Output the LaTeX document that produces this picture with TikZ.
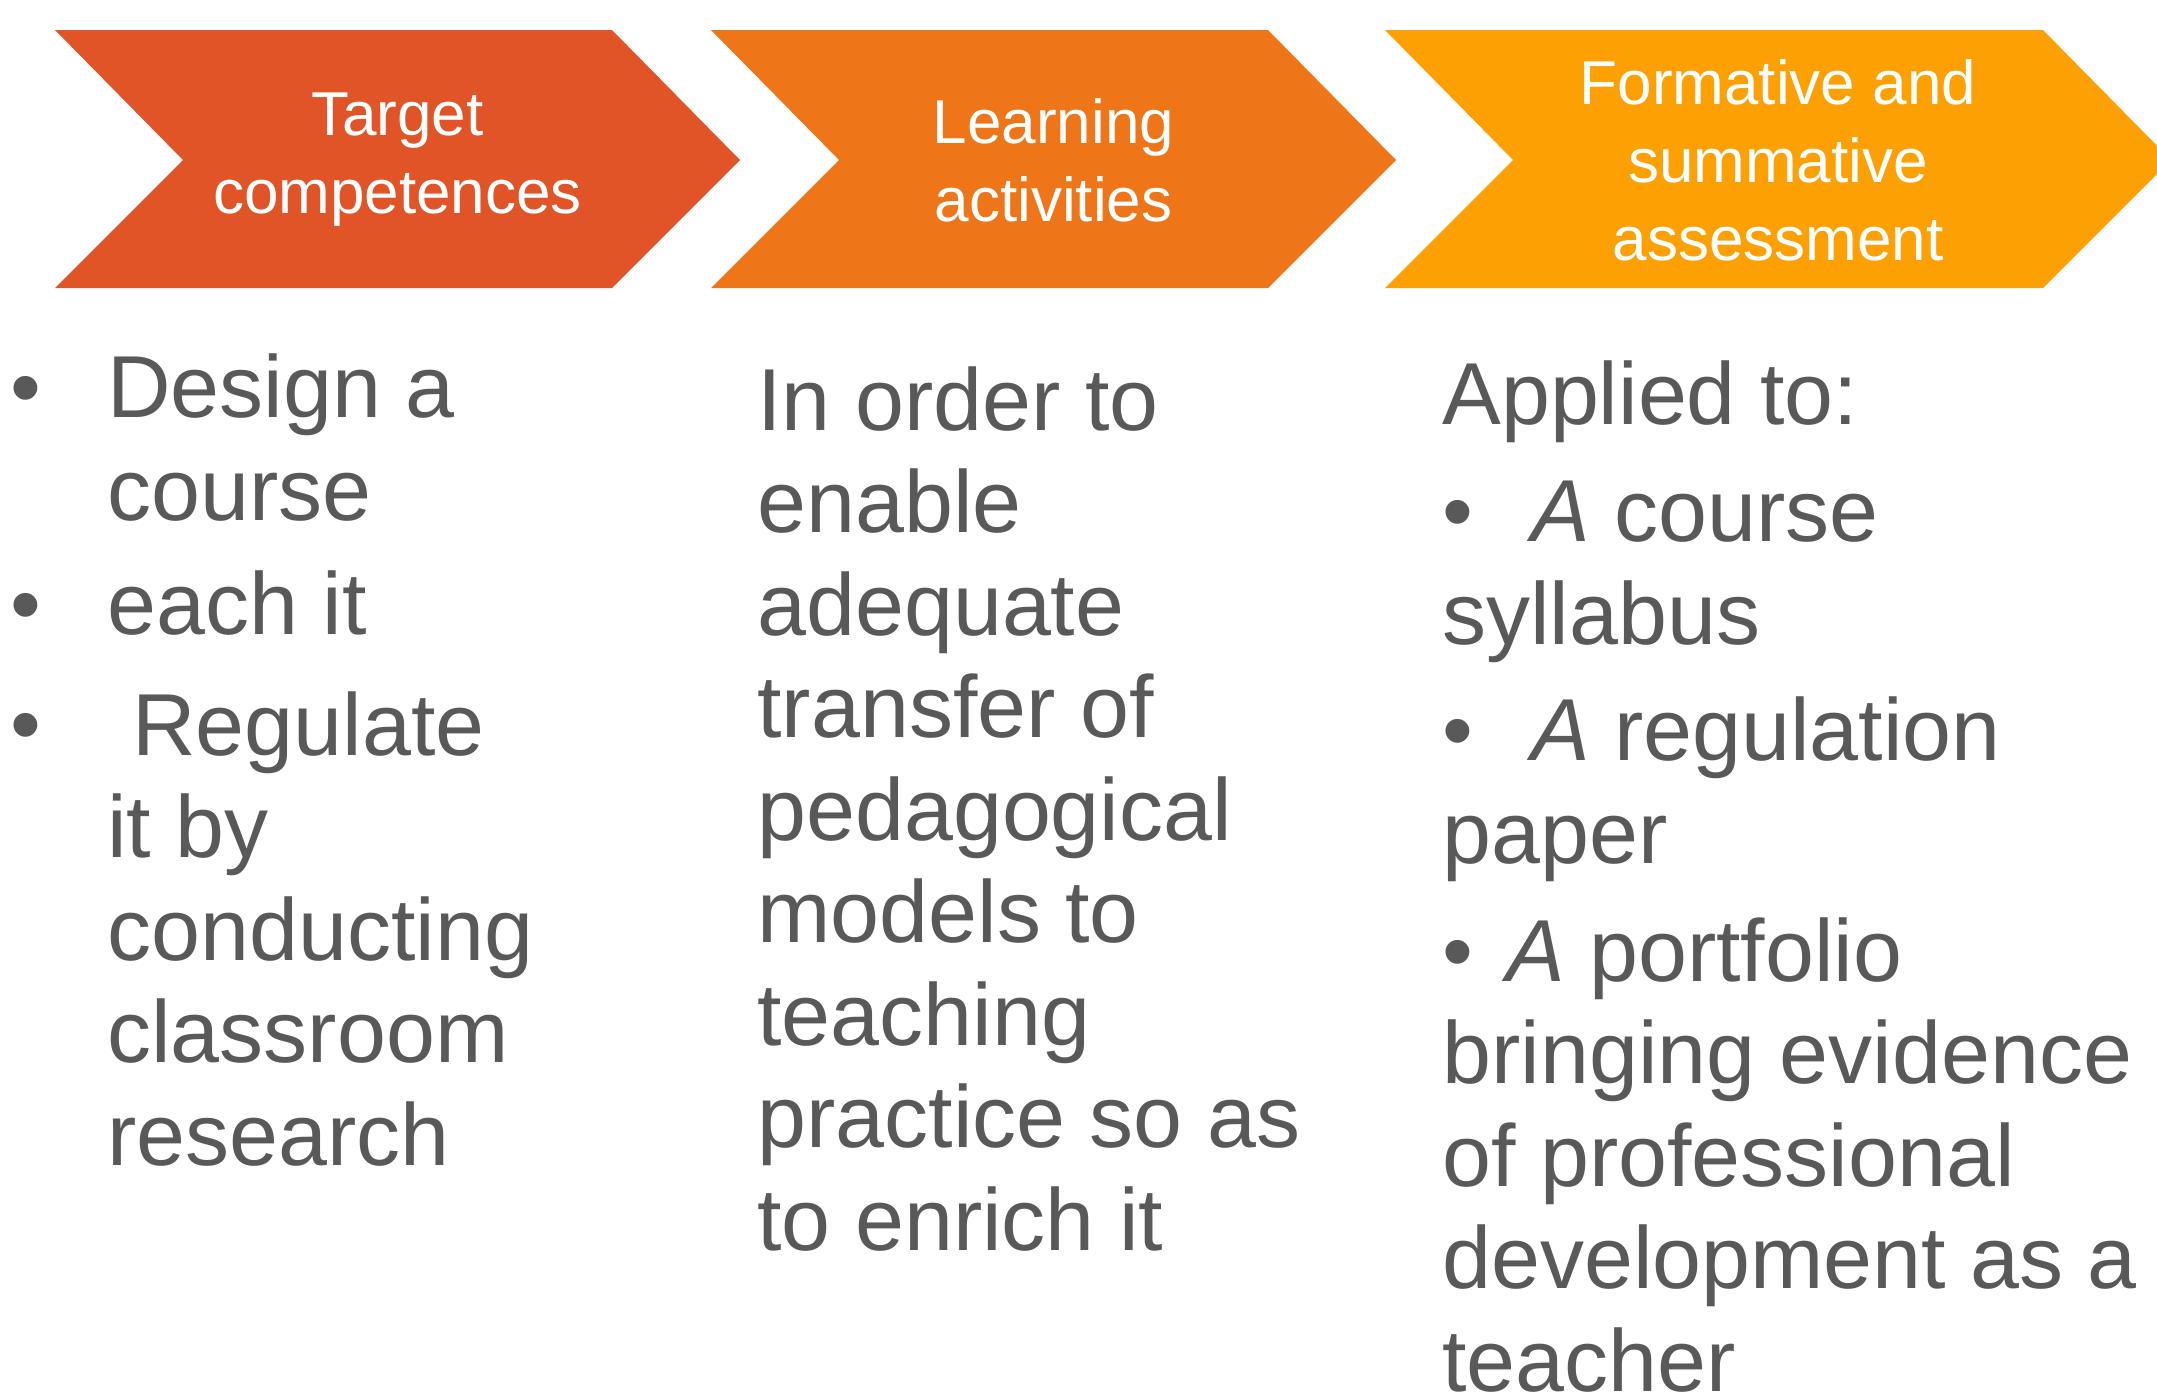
\documentclass[tikz,border=0pt]{standalone}
\usepackage{fontspec}
\setmainfont{Liberation Sans}
\definecolor{stagered}{RGB}{224,84,40}
\definecolor{stageorange}{RGB}{238,117,24}
\definecolor{stageamber}{RGB}{253,160,4}
\definecolor{bodygray}{RGB}{89,89,89}
\tikzset{
  stage/.style={text=white, align=center, font=\fontsize{31}{39}\selectfont},
  % anchored at the baseline of the last line
  body/.style={text=bodygray, anchor=base west, align=left, inner sep=0pt,
    font=\fontsize{44}{51.25}\selectfont},
}

\begin{document}
\begin{tikzpicture}[x=0.5pt, y=-0.5pt]
  \path[use as bounding box, clip] (0,0) rectangle (2157,1399);

  % chevrons
  \foreach \l/\r/\col/\name/\txt in {
      55/612/stagered/target/{Target\\competences},
      711/1268/stageorange/learning/{Learning\\activities},
      1385/2043/stageamber/assess/{Formative and\\summative\\assessment}} {
    \fill[\col] (\l,30) -- (\r,30) -- ++(128,130) -- (\r,288) -- (\l,288) -- ++(128,-128) -- cycle;
    \node[stage] (\name) at ({(\l+128+\r)/2},160) {\txt};
  }

  % first column
  \foreach \y [count=\i] in {417,634,754}
    \node[body] (dot\i) at (10,\y) {\textbullet};
  \node[body] (design) at (107,520) {Design a\\course};
  \node[body] (teach) at (107,634) {each it};
  \node[body] (regulate) at (107,1165) {\hspace*{12.5pt}Regulate\\it by\\conducting\\classroom\\research};

  % second column
  \node[body] (transfer) at (757,1250) {In order to\\enable\\adequate\\transfer of\\pedagogical\\models to\\teaching\\practice so as\\to enrich it};

  % third column
  \node[body] (applied) at (1442,424) {Applied to:};
  \node[body] (syllabus) at (1442,644) {\textbullet\hspace*{29pt}\textit{A} course\\syllabus};
  \node[body] (paper) at (1442,863) {\textbullet\hspace*{29pt}\textit{A} regulation\\paper};
  \node[body] (portfolio) at (1442,1391) {\textbullet\hspace*{16.5pt}\textit{A} portfolio\\bringing evidence\\of professional\\development as a\\teacher};
\end{tikzpicture}
\end{document}
